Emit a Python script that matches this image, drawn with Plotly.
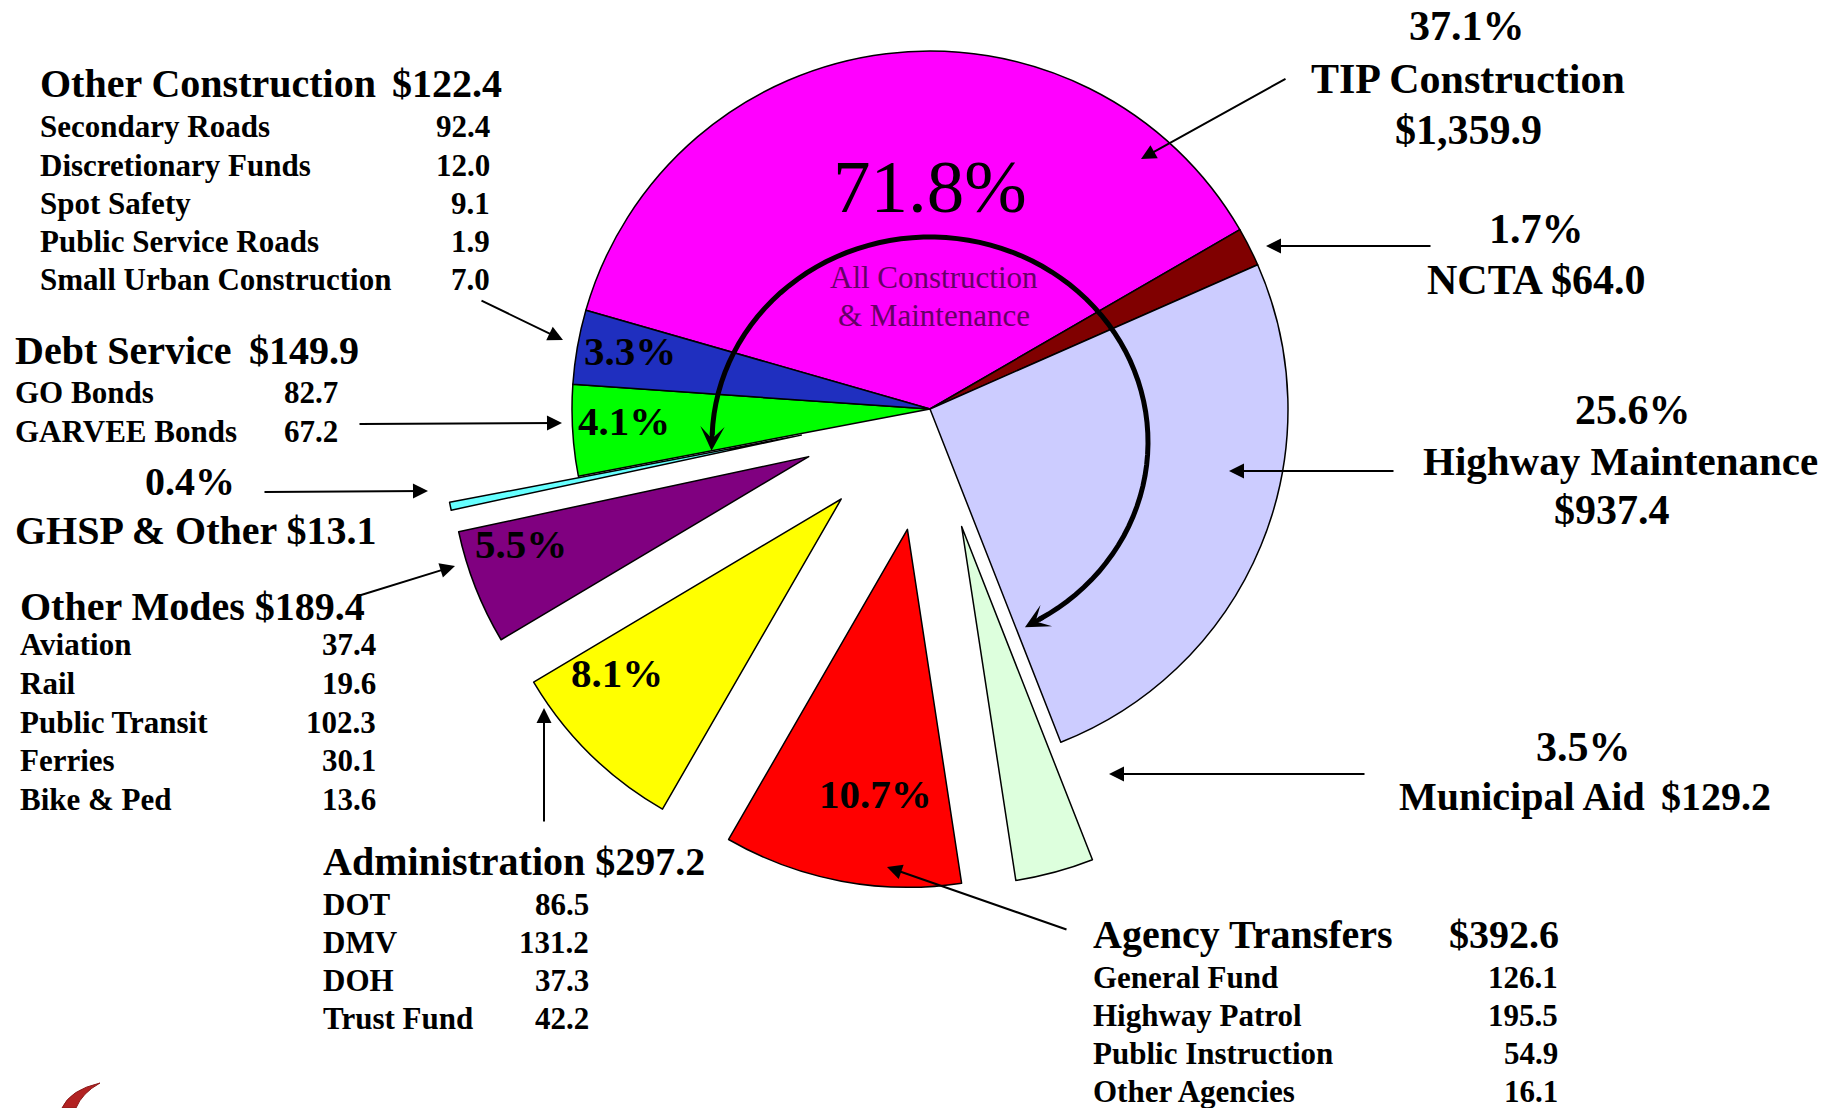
import math
import plotly.graph_objects as go

W, H = 1830, 1108
FONT = "Liberation Serif"

# slices, clockwise starting at the upper-left edge of TIP Construction
labels = ["TIP Construction", "NCTA", "Highway Maintenance", "Municipal Aid", "Agency Transfers",
          "Administration", "Other Modes", "GHSP & Other", "Debt Service", "Other Construction"]
values = [1359.9, 64.0, 937.4, 129.2, 392.6, 297.2, 189.4, 13.1, 149.9, 122.4]
pct_labels = ["37.1%", "1.7%", "25.6%", "3.5%", "10.7%", "8.1%", "5.5%", "0.4%", "4.1%", "3.3%"]
colors = ["#FF00FF", "#800000", "#CCCCFF", "#DDFFDD", "#FF0000",
          "#FFFF00", "#800080", "#66FFFF", "#00FF00", "#1F2FBF"]
total_share = "71.8%"

# breakdown tables
oc_items = ["Secondary Roads", "Discretionary Funds", "Spot Safety", "Public Service Roads", "Small Urban Construction"]
oc_vals = [92.4, 12.0, 9.1, 1.9, 7.0]
ds_items = ["GO Bonds", "GARVEE Bonds"]
ds_vals = [82.7, 67.2]
om_items = ["Aviation", "Rail", "Public Transit", "Ferries", "Bike & Ped"]
om_vals = [37.4, 19.6, 102.3, 30.1, 13.6]
adm_items = ["DOT", "DMV", "DOH", "Trust Fund"]
adm_vals = [86.5, 131.2, 37.3, 42.2]
at_items = ["General Fund", "Highway Patrol", "Public Instruction", "Other Agencies"]
at_vals = [126.1, 195.5, 54.9, 16.1]

amount = dict(zip(labels, values))
pct = dict(zip(labels, pct_labels))

# pie geometry (pixels)
cx, cy, r = 930, 409, 358
rotation = -74
pulls = {"Municipal Aid": 0.34, "Agency Transfers": 0.342, "Administration": 0.353,
         "Other Modes": 0.364, "GHSP & Other": 0.367}

fig = go.Figure()


def pie_trace(center_x, center_y, show):
    cols = [c if s else "rgba(0,0,0,0)" for c, s in zip(colors, show)]
    widths = [1.5 if s else 0 for s in show]
    return go.Pie(labels=labels, values=values, sort=False, direction="clockwise", rotation=rotation,
                  marker=dict(colors=cols, line=dict(color="black", width=widths)),
                  textinfo="none", hoverinfo="skip", showlegend=False,
                  domain=dict(x=[(center_x - r) / W, (center_x + r) / W],
                              y=[1 - (center_y + r) / H, 1 - (center_y - r) / H]))


# slices that stay in place
fig.add_trace(pie_trace(cx, cy, [lab not in pulls for lab in labels]))

# exploded slices: one trace each, shifted along the slice bisector
total = sum(values)
cum = 0
for lab, v in zip(labels, values):
    if lab in pulls:
        mid = math.radians(rotation + 360 * (cum + v / 2) / total)
        d = pulls[lab] * r
        fig.add_trace(pie_trace(cx + d * math.sin(mid), cy - d * math.cos(mid), [l == lab for l in labels]))
    cum += v


def txt(x, y, s, size, anchor="left", weight="bold", color="black"):
    fig.add_annotation(x=x / W, y=1 - y / H, xref="paper", yref="paper", text=s, showarrow=False,
                       xanchor=anchor, yanchor="middle",
                       font=dict(family=FONT, size=size, color=color, weight=weight))


def arrow(hx, hy, tx, ty, width=2, head=2, size=1.5):
    fig.add_annotation(x=hx / W, y=1 - hy / H, xref="paper", yref="paper", text="", showarrow=True,
                       ax=tx - hx, ay=ty - hy, arrowhead=head, arrowsize=size, arrowwidth=width,
                       arrowcolor="black", standoff=0)


def block(x_left, x_val, y0, step, items, vals, size=31):
    for i, (name, v) in enumerate(zip(items, vals)):
        y = y0 + i * step
        txt(x_left, y, name, size)
        txt(x_val, y, f"{v:.1f}", size, anchor="right")


def money(lab):
    return f"${amount[lab]:,.1f}"


# left side
txt(38, 84, "Other Construction", 40)
txt(504, 84, money("Other Construction"), 40, "right")
block(38, 492, 127, 38.2, oc_items, oc_vals)

txt(13, 350, "Debt Service", 40)
txt(361, 350, money("Debt Service"), 40, "right")
block(13, 340, 393, 38, ds_items, ds_vals)

txt(190, 482, pct["GHSP & Other"], 40, "center")
txt(13, 530, "GHSP & Other " + money("GHSP & Other"), 40)

txt(18, 606, "Other Modes " + money("Other Modes"), 40)
block(18, 378, 645, 38.5, om_items, om_vals)

txt(321, 861, "Administration " + money("Administration"), 40)
block(321, 591, 904, 38.3, adm_items, adm_vals)

txt(1091, 934, "Agency Transfers", 40)
txt(1561, 934, money("Agency Transfers"), 40, "right")
block(1091, 1560, 977, 38.3, at_items, at_vals)

# right side
txt(1467, 26, pct["TIP Construction"], 42, "center")
txt(1468, 79, "TIP Construction", 42, "center")
txt(1468, 130, money("TIP Construction"), 42, "center")
txt(1536, 229, pct["NCTA"], 42, "center")
txt(1536, 280, "NCTA " + money("NCTA"), 42, "center")
txt(1633, 410, pct["Highway Maintenance"], 42, "center")
txt(1620, 461, "Highway Maintenance", 41, "center")
txt(1612, 510, money("Highway Maintenance"), 42, "center")
txt(1583, 747, pct["Municipal Aid"], 42, "center")
txt(1397, 796, "Municipal Aid", 40)
txt(1773, 796, money("Municipal Aid"), 40, "right")

# inside labels
txt(630, 351, pct["Other Construction"], 41, "center")
txt(624, 421, pct["Debt Service"], 41, "center")
txt(521, 544, pct["Other Modes"], 41, "center")
txt(617, 673, pct["Administration"], 41, "center")
txt(875, 794, pct["Agency Transfers"], 41, "center")

txt(930, 187, total_share, 75, "center", weight="normal")
txt(934, 277, "All Construction", 31, "center", weight="normal", color="#660066")
txt(934, 315, "&amp; Maintenance", 31, "center", weight="normal", color="#660066")

# leader arrows
arrow(1141, 159, 1287, 78)
arrow(1266, 246, 1432, 246)
arrow(1229, 471, 1395, 471)
arrow(1109, 774, 1366, 774)
arrow(887, 867, 1068, 930)
arrow(544, 708, 544, 823)
arrow(455, 566, 358, 596)
arrow(428, 491, 263, 492)
arrow(562, 423, 358, 424)
arrow(563, 340, 480, 300)

# curved double arrow round "All Construction & Maintenance"
ecx, ecy, erx, ery = 930, 442, 218, 205
a0, a1 = -88, 150
pts = []
for k in range(81):
    a = math.radians(a0 + (a1 - a0) * k / 80)
    pts.append((ecx + erx * math.sin(a), ecy - ery * math.cos(a)))
path = "M " + " L ".join(f"{x / W:.5f},{1 - y / H:.5f}" for x, y in pts)
fig.add_shape(type="path", path=path, xref="paper", yref="paper", line=dict(color="black", width=5))

for a, sgn in [(a0, -1), (a1, 1)]:
    t = math.radians(a)
    px, py = ecx + erx * math.sin(t), ecy - ery * math.cos(t)
    dx, dy = erx * math.cos(t) * sgn, ery * math.sin(t) * sgn
    n = math.hypot(dx, dy)
    dx, dy = dx / n, dy / n
    hx, hy = px + 16 * dx, py + 16 * dy
    arrow(hx, hy, hx - 22 * dx, hy - 22 * dy, width=4.5, head=3, size=0.9)

# logo fragment at the bottom-left corner
logo = "M 62,1108 Q 70,1090 100,1083 Q 82,1093 76,1108 Z"
logo = " ".join(
    (f"{float(p.split(',')[0]) / W:.5f},{1 - float(p.split(',')[1]) / H:.5f}" if "," in p else p)
    for p in logo.split())
fig.add_shape(type="path", path=logo, xref="paper", yref="paper",
              fillcolor="#B22222", line=dict(color="#8B1A1A", width=1))

fig.update_layout(width=W, height=H, margin=dict(l=0, r=0, t=0, b=0),
                  paper_bgcolor="white", plot_bgcolor="white", showlegend=False)

# drop the default 8px page margin so the figure sits at the window's corner
fig.write_html("out.html", config={"displayModeBar": False},
               post_script="document.body.style.margin='0';document.body.style.overflow='hidden';")
